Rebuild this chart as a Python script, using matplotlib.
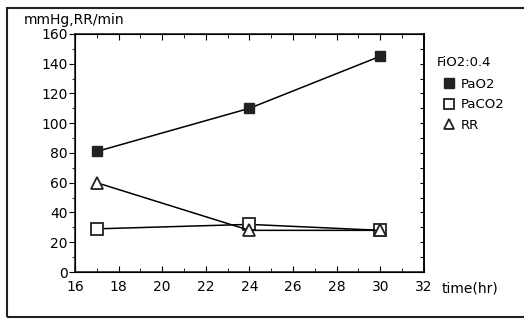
import matplotlib
matplotlib.use("Agg")
import matplotlib.pyplot as plt
from matplotlib.patches import Rectangle
from matplotlib.ticker import MultipleLocator

# data
time_hr = [17, 24, 30]
pao2 = [81, 110, 145]
paco2 = [29, 32, 28]
rr = [60, 28, 28]

fig = plt.figure(figsize=(5.24, 3.2), dpi=100)
ax = fig.add_axes([0.143, 0.15, 0.666, 0.744])

# outer frame around the whole panel
fig.patches.append(Rectangle((0.013, 0.009), 1.0, 0.966, transform=fig.transFigure,
                             fill=False, edgecolor="#222222", linewidth=1.5))

ax.plot(time_hr, pao2, "-s", color="black", mfc="#222222", mec="#222222",
        ms=7, lw=1.1, label="PaO2")
ax.plot(time_hr, paco2, "-s", color="black", mfc="white", mec="#222222",
        ms=8, mew=1.3, lw=1.1, label="PaCO2")
ax.plot(time_hr, rr, "-^", color="black", mfc="white", mec="#222222",
        ms=8, mew=1.3, lw=1.1, label="RR")

ax.set_xlim(16, 32)
ax.set_ylim(0, 160)
ax.xaxis.set_major_locator(MultipleLocator(2))
ax.xaxis.set_minor_locator(MultipleLocator(1))
ax.yaxis.set_major_locator(MultipleLocator(20))
ax.yaxis.set_minor_locator(MultipleLocator(10))

ax.tick_params(axis="x", which="both", direction="in", top=True, labelsize=10, pad=6)
ax.tick_params(axis="x", which="major", length=4)
ax.tick_params(axis="x", which="minor", length=3)
ax.tick_params(axis="y", which="both", direction="out", labelsize=10, pad=1)
ax.tick_params(axis="y", which="major", length=4)
ax.tick_params(axis="y", which="minor", length=2)
for sp in ax.spines.values():
    sp.set_linewidth(1.2)
    sp.set_color("#222222")

# right spine with inward ticks
ax2 = ax.twinx()
ax2.set_ylim(0, 160)
ax2.yaxis.set_major_locator(MultipleLocator(10))
ax2.tick_params(axis="y", direction="in", length=3, labelright=False)
ax2.spines["right"].set_linewidth(1.2)

fig.text(24 / 524, 1 - 20 / 320, "mmHg,RR/min", fontsize=10, va="center", ha="left")
fig.text(442 / 524, 1 - 288 / 320, "time(hr)", fontsize=10, va="center", ha="left")
fig.text(437 / 524, 1 - 63 / 320, "FiO2:0.4", fontsize=9.5, va="center", ha="left")

leg = ax.legend(loc="upper left", bbox_to_anchor=(444 / 524, 1 - 78 / 320),
                bbox_transform=fig.transFigure, frameon=False, fontsize=9.5,
                handlelength=0.8, handletextpad=0.5, labelspacing=0.55,
                borderpad=0, borderaxespad=0)
for h in leg.legend_handles:
    h.set_linestyle("none")
    h.set_markersize(6.5)

fig.savefig("out.png", dpi=100)
